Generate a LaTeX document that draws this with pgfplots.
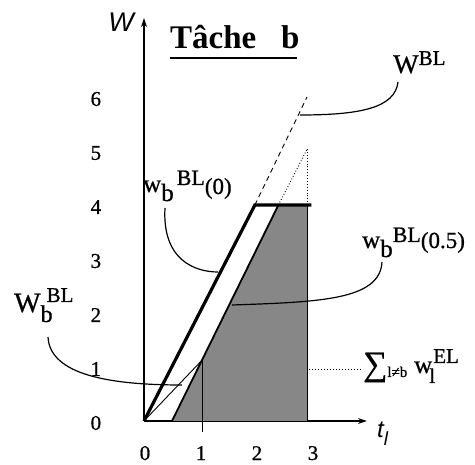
\documentclass[border=0pt]{standalone}
\usepackage{fontspec}
\setmainfont{Liberation Serif}
\setsansfont{Liberation Sans}
\newfontface\scan{Liberation Serif}[FakeBold=0.8]
\usepackage{pgfplots}
\pgfplotsset{compat=1.18}
\usetikzlibrary{arrows.meta}

\newcommand{\fs}[1]{\fontsize{#1}{#1}\selectfont}

\begin{document}
\begin{tikzpicture}[x=1pt,y=1pt]
\useasboundingbox (-144,-44) rectangle (331,421);
\begin{axis}[
  at={(0,0)}, anchor=south west,
  scale only axis, width=222.9pt, height=402.8pt,
  xmin=0, xmax=3.98, ymin=0, ymax=7.46,
  axis lines=left,
  axis line style={line width=1.1pt, -{Stealth[length=9pt,width=6pt]}},
  clip=false,
  xtick={0,1,2,3}, ytick={0,1,2,3,4,5,6},
  tick style={draw=none},
  /pgf/number format/assume math mode=true,
  tick label style={font=\scan\fs{21}},
  xticklabel style={anchor=center, yshift=-30pt, xshift=1pt, inner sep=0pt},
  yticklabel style={anchor=center, xshift=-46pt, yshift=-2pt},
]
% shaded area
\addplot[draw=none, fill=black!47] coordinates {(0.5,0) (2.4,4) (2.92,4) (2.92,0) (0.5,0)};
\addplot[line width=1.8pt] coordinates {(0.5,0) (2.4,4)};
\addplot[line width=1.8pt] coordinates {(2.92,0) (2.92,4)};
% bold line and plateau
\addplot[line width=3.2pt, line join=miter] coordinates {(0,0) (1.98,4) (2.99,4)};
% continuations above 4
\addplot[line width=0.9pt, dash pattern=on 5pt off 4pt] coordinates {(1.98,4) (2.91,6.0)};
\addplot[line width=0.9pt, dotted] coordinates {(2.4,4) (2.92,5.05)};
\addplot[line width=0.9pt, dotted] coordinates {(2.92,4) (2.92,5.05)};
% thin line and marker at t=1
\addplot[line width=0.9pt] coordinates {(0,0) (1.04,1.13)};
\addplot[line width=1.1pt] coordinates {(1.04,-0.2) (1.04,1.13)};
% level line for the sum
\addplot[line width=1pt, dotted] coordinates {(2.95,0.96) (3.88,0.96)};
\end{axis}

% title
\node[anchor=base west, inner sep=0, font=\bfseries\fs{33}] at (26,372) {Tâche\hspace{0.75em}b};
\draw[line width=2.5pt] (26,363) -- (153,363);

% axis names
\node[font=\sffamily\itshape\fs{27}] at (-23,399) {W};
\node[anchor=base west, inner sep=0] at (233,-17) {\sffamily\itshape\fs{24}t\raisebox{-8pt}{\fs{19}l}};

% leader curves
\draw[line width=1.2pt] (21,213) .. controls (18,161) and (51,149) .. (74,149);
\draw[line width=1.2pt] (238,159) .. controls (236,121) and (176,119) .. (88,116);
\draw[line width=1.2pt] (-96,84) .. controls (-94,46) and (-34,36) .. (38,36);
\draw[line width=1.2pt] (254,339) .. controls (251,313) and (216,306) .. (156,306);

% labels
\node[anchor=base west, inner sep=0, font=\scan] at (-1,229)
  {\fs{25}w\raisebox{-9pt}{b}\hspace{3pt}\raisebox{7pt}{\fs{22}BL}\raisebox{-2pt}{\fs{23}(0)}};
\node[anchor=base west, inner sep=0, font=\scan] at (218,173)
  {\fs{25}w\raisebox{-9pt}{b}\raisebox{6pt}{\fs{22}BL}{\fs{23}(0.5)}};
\node[anchor=base west, inner sep=0, font=\scan] at (-130,109)
  {\fs{28}W\rlap{\raisebox{-10pt}{\fs{24}b}}\kern6pt\raisebox{10pt}{\fs{21}BL}};
\node[anchor=base west, inner sep=0, font=\scan] at (249,348)
  {\fs{27}W\raisebox{8pt}{\fs{21}BL}};
\node[anchor=base west, inner sep=0, font=\scan] at (219,46)
  {\fs{34}∑\raisebox{-2pt}{\fs{15}l≠b}};
\node[anchor=base west, inner sep=0, font=\scan] at (270,48)
  {\fs{25}w\kern-3pt\rlap{\raisebox{-10pt}{\fs{21}l}}\kern4pt\raisebox{10pt}{\fs{21}EL}};
\end{tikzpicture}
\end{document}
